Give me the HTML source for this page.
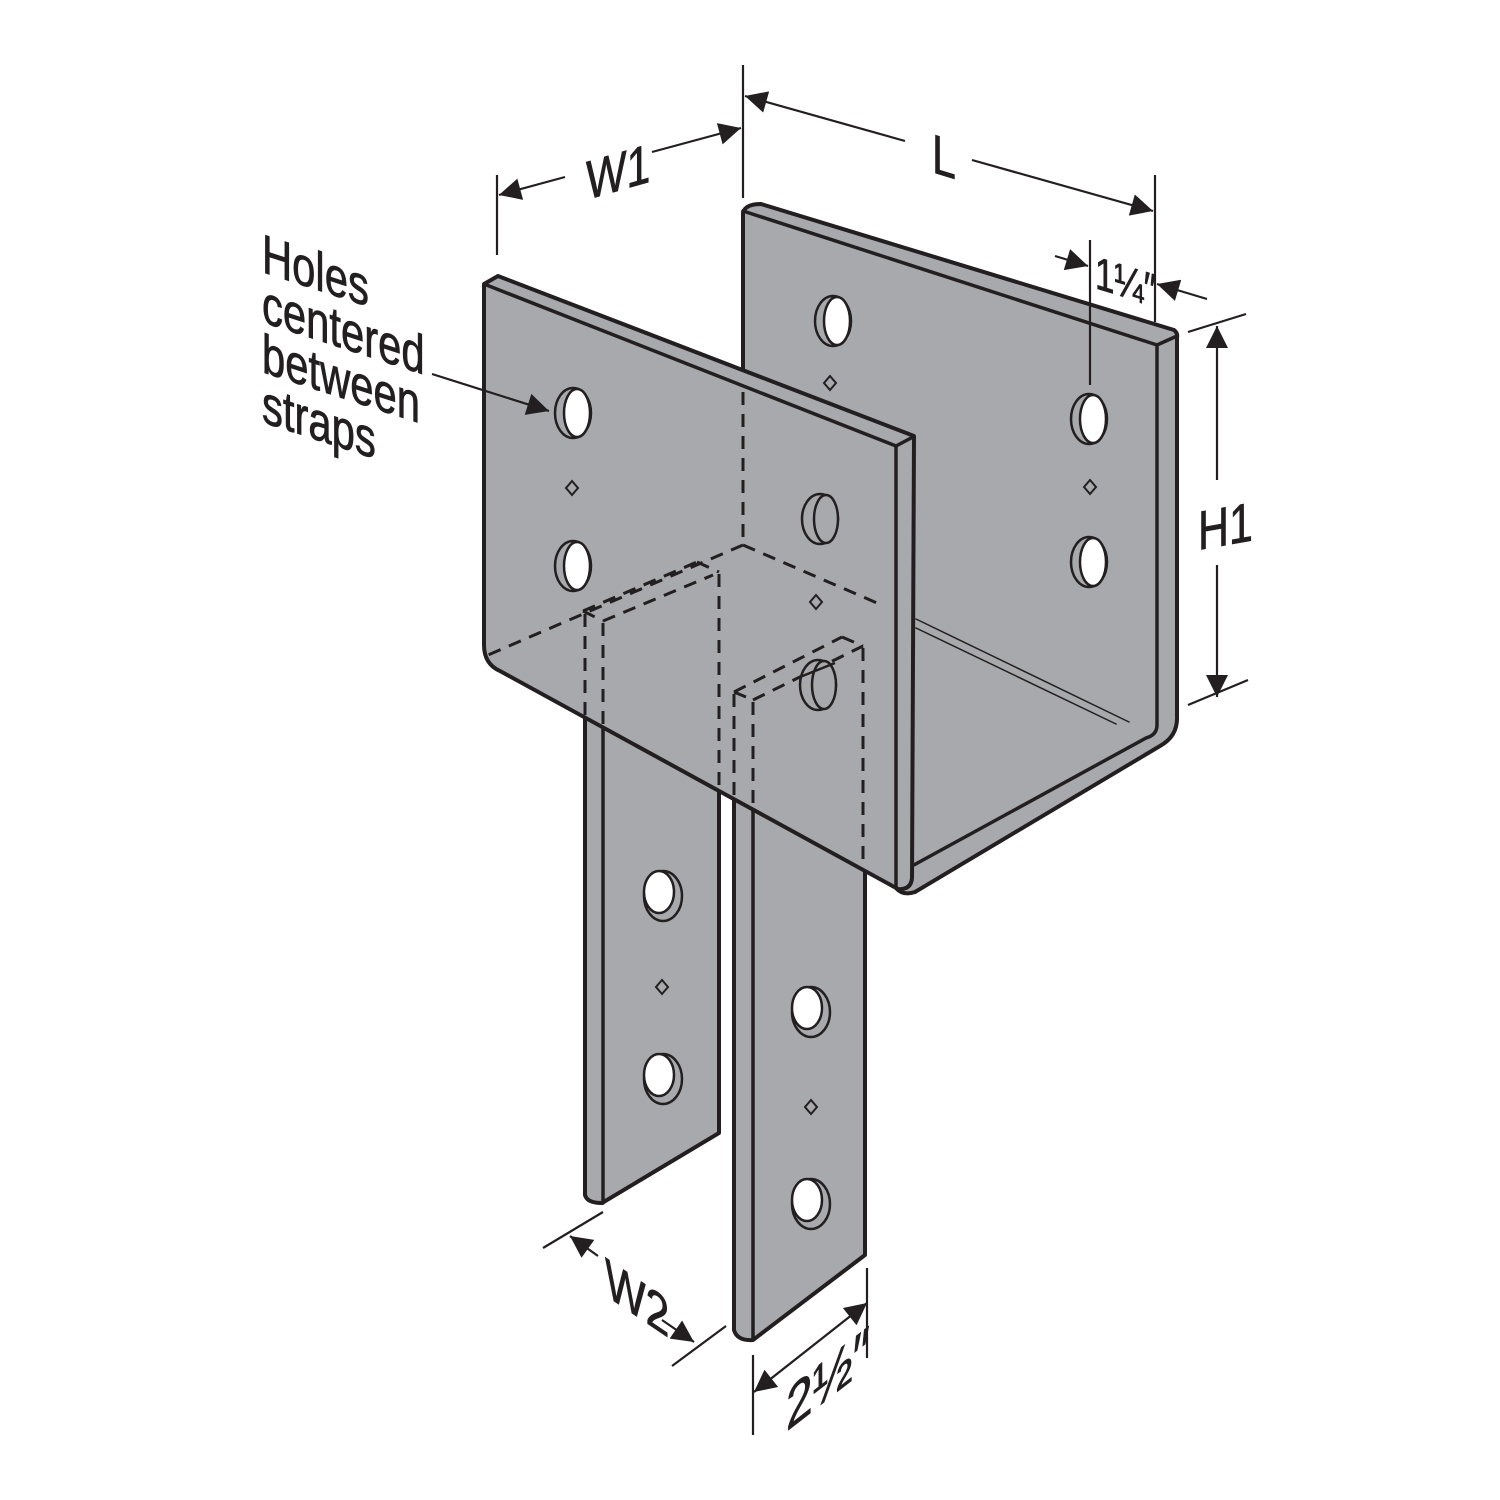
<!DOCTYPE html>
<html><head><meta charset="utf-8"><style>
html,body{margin:0;padding:0;background:#fff;width:1500px;height:1500px;overflow:hidden}
svg{display:block}
text{font-family:"Liberation Sans",sans-serif;fill:#231f20;stroke:#231f20;stroke-width:0.8}
</style></head><body>
<svg width="1500" height="1500" viewBox="0 0 1500 1500" xmlns="http://www.w3.org/2000/svg">
<defs>
<marker id="ab" viewBox="0 0 10 10" refX="10" refY="5" markerWidth="36" markerHeight="22" markerUnits="userSpaceOnUse" orient="auto-start-reverse">
<path d="M0,0 L10,5 L0,10 Z" fill="#231f20"/></marker>
</defs>
<g stroke="#231f20" fill="none" stroke-linejoin="round" stroke-linecap="round">

<path d="M585,600 L585,1195 Q587,1203 602,1203 L719,1133 L719,570 Z" fill="#a7a9ac" stroke-width="4"/>
<line x1="603" y1="620" x2="603" y2="1203" stroke-width="3.5"/>
<path d="M734,690 L734,1330 Q737,1341 753,1340 L865,1255 L865,640 Z" fill="#a7a9ac" stroke-width="4"/>
<line x1="753" y1="698" x2="753" y2="1340" stroke-width="3.5"/>

<path d="M743,213 Q745,204 761,204 L1174,330 Q1178,333 1177,338 L1177,716 Q1178,736 1160,746 L915,892 Q903,896 896,888 L896,450 L743,390 Z" fill="#a7a9ac" stroke-width="4"/>
<path d="M743,211 L1157,345 L1157,725 Q1157,735 1146,738 L912,866" stroke-width="3.5"/>
<line x1="743" y1="211" x2="743" y2="386" stroke-width="3.5"/>
<line x1="1157" y1="345" x2="1177" y2="336" stroke-width="3.5"/>
<line x1="916" y1="619" x2="1129" y2="722" stroke-width="1.5"/>
<line x1="916" y1="628" x2="1116" y2="724" stroke-width="1.5"/>

<path d="M484,284 L498,276 L914,436 L912,878 Q911,890 898,889 L500,671 Q484,664 484,645 Z" fill="#a7a9ac" stroke-width="4"/>
<path d="M484,284 L896,446 L896,888" stroke-width="3.5"/>
<line x1="896" y1="446" x2="913" y2="437" stroke-width="3.5"/>

<g stroke-width="3" stroke-dasharray="13,9" stroke-linecap="butt">
<line x1="743" y1="392" x2="743" y2="545"/>
<line x1="743" y1="545" x2="488" y2="655"/>
<line x1="743" y1="545" x2="884" y2="606"/>
<line x1="583" y1="611" x2="697" y2="562"/>
<line x1="697" y1="562" x2="719" y2="572"/>
<line x1="583" y1="611" x2="603" y2="621"/>
<line x1="603" y1="621" x2="713" y2="575"/>
<line x1="585" y1="614" x2="585" y2="718"/>
<line x1="603" y1="623" x2="603" y2="725"/>
<line x1="719" y1="574" x2="719" y2="790"/>
<line x1="734" y1="692" x2="842" y2="637"/>
<line x1="734" y1="692" x2="753" y2="700"/>
<line x1="753" y1="700" x2="863" y2="646"/>
<line x1="842" y1="637" x2="863" y2="646"/>
<line x1="734" y1="694" x2="734" y2="798"/>
<line x1="753" y1="702" x2="753" y2="808"/>
<line x1="863" y1="648" x2="863" y2="868"/>
</g>
</g>

<g stroke="#231f20" stroke-width="2.5">
<ellipse cx="573" cy="413" rx="18" ry="25" fill="#a7a9ac"/><ellipse cx="577" cy="413" rx="13" ry="24" fill="#fff"/>
<ellipse cx="573" cy="566" rx="18" ry="25" fill="#a7a9ac"/><ellipse cx="577" cy="566" rx="13" ry="24" fill="#fff"/>
<ellipse cx="833" cy="321" rx="18" ry="25" fill="#a7a9ac"/><ellipse cx="837" cy="321" rx="13" ry="24" fill="#fff"/>
<ellipse cx="1089" cy="419" rx="18" ry="25" fill="#a7a9ac"/><ellipse cx="1093" cy="419" rx="13" ry="24" fill="#fff"/>
<ellipse cx="1089" cy="562" rx="18" ry="25" fill="#a7a9ac"/><ellipse cx="1093" cy="562" rx="13" ry="24" fill="#fff"/>
<ellipse cx="820" cy="519" rx="18" ry="25" fill="#a7a9ac"/><ellipse cx="826" cy="519" rx="12" ry="24" fill="#a7a9ac"/>
<ellipse cx="818" cy="685" rx="18" ry="25" fill="#a7a9ac"/><ellipse cx="824" cy="685" rx="12" ry="24" fill="#a7a9ac"/>
<line x1="800" y1="677" x2="835" y2="663"/>
<ellipse cx="663" cy="896" rx="19" ry="25" fill="#a7a9ac"/><ellipse cx="659" cy="892" rx="15" ry="21" fill="#fff"/>
<ellipse cx="663" cy="1079" rx="19" ry="25" fill="#a7a9ac"/><ellipse cx="659" cy="1075" rx="15" ry="21" fill="#fff"/>
<ellipse cx="811" cy="1012" rx="19" ry="25" fill="#a7a9ac"/><ellipse cx="807" cy="1008" rx="15" ry="21" fill="#fff"/>
<ellipse cx="811" cy="1204" rx="19" ry="25" fill="#a7a9ac"/><ellipse cx="807" cy="1200" rx="15" ry="21" fill="#fff"/>
</g>
<g stroke="#231f20" stroke-width="2" fill="none">
<path d="M572,481 l6,7 -6,7 -6,-7 Z"/>
<path d="M830,376 l6,7 -6,7 -6,-7 Z"/>
<path d="M816,595 l6,7 -6,7 -6,-7 Z"/>
<path d="M1090,480 l6,7 -6,7 -6,-7 Z"/>
<path d="M662,980 l6,7 -6,7 -6,-7 Z"/>
<path d="M811,1100 l6,7 -6,7 -6,-7 Z"/>
</g>

<g stroke="#231f20" stroke-width="2.2" fill="none">
<line x1="497" y1="175" x2="497" y2="255"/>
<line x1="743" y1="65" x2="743" y2="198"/>
<line x1="1155" y1="175" x2="1155" y2="322"/>
<line x1="1090" y1="240" x2="1090" y2="385"/>
<line x1="1188" y1="332" x2="1246" y2="314"/>
<line x1="1188" y1="705" x2="1248" y2="680"/>
<line x1="543" y1="1248" x2="603" y2="1212"/>
<line x1="672" y1="1366" x2="726" y2="1326"/>
<line x1="753" y1="1355" x2="753" y2="1435"/>
<line x1="867" y1="1268" x2="867" y2="1358"/>
<line x1="565" y1="177" x2="499" y2="195" marker-end="url(#ab)"/>
<line x1="652" y1="152" x2="741" y2="128" marker-end="url(#ab)"/>
<line x1="905" y1="141" x2="745" y2="96" marker-end="url(#ab)"/>
<line x1="972" y1="160" x2="1153" y2="211" marker-end="url(#ab)"/>
<line x1="1055" y1="256" x2="1088" y2="266" marker-end="url(#ab)"/>
<line x1="1207" y1="299" x2="1157" y2="284" marker-end="url(#ab)"/>
<line x1="1217" y1="480" x2="1217" y2="326" marker-end="url(#ab)"/>
<line x1="1217" y1="565" x2="1217" y2="697" marker-end="url(#ab)"/>
<line x1="598" y1="1256" x2="570" y2="1236" marker-end="url(#ab)"/>
<line x1="662" y1="1320" x2="694" y2="1342" marker-end="url(#ab)"/>
<line x1="754" y1="1392" x2="867" y2="1303" marker-end="url(#ab)" marker-start="url(#ab)"/>
<line x1="432" y1="374" x2="549" y2="411" marker-end="url(#ab)"/>
</g>

<g font-size="55">
<text transform="translate(262,272) skewY(18) scale(0.76,1)">Holes</text>
<text transform="translate(262,322) skewY(18) scale(0.76,1)">centered</text>
<text transform="translate(262,372) skewY(18) scale(0.76,1)">between</text>
<text transform="translate(262,422) skewY(18) scale(0.76,1)">straps</text>
<text transform="translate(586,200) skewY(-16) scale(0.78,1)">W1</text>
<text transform="translate(932,172) skewY(17) scale(0.78,1)">L</text>
<text transform="translate(1198,550) skewY(-10) scale(0.78,1)">H1</text>
<text transform="translate(605,1295) skewY(34) scale(0.78,1)">W2</text>
</g>
<text font-size="46" transform="translate(1095,288) skewY(17) scale(0.76,1)">1¼″</text>
<text font-size="60" transform="translate(786,1432) skewY(-38) scale(0.8,1)">2½″</text>
</svg>
</body></html>
